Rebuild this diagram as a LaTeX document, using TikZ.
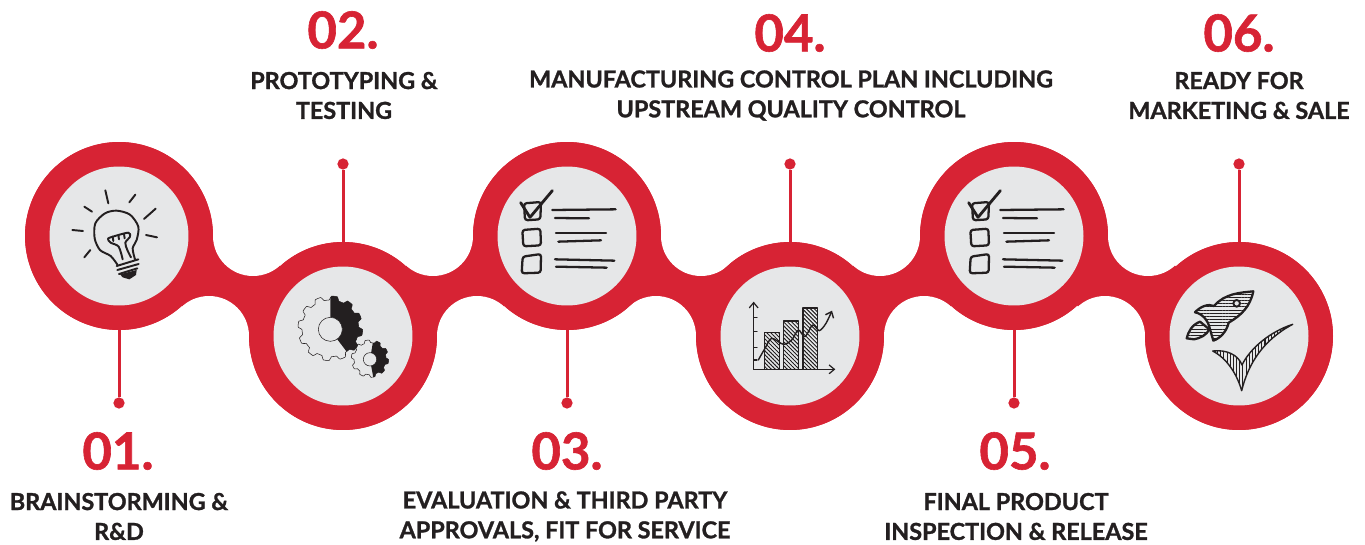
\documentclass[tikz,border=0pt]{standalone}
\usepackage{fontspec}
\setmainfont{Lato}[BoldFont={Lato Bold},BoldFeatures={FakeBold=1.2}]
\usetikzlibrary{positioning,%
  patterns.meta,%
  arrows.meta
}
\definecolor{bandred}{HTML}{D72334}
\definecolor{discgray}{HTML}{E6E7E8}
\definecolor{inkblack}{HTML}{231F20}
\tikzset{
  ring/.style={circle, fill=bandred, minimum size=3.76cm, inner sep=0pt},
  disc/.style={circle, fill=discgray, minimum size=2.78cm, inner sep=0pt},
  notch/.style={circle, fill=white, minimum size=1.6cm, inner sep=0pt},
  pin/.style={circle, fill=bandred, minimum size=.225cm, inner sep=0pt},
  stem/.style={draw=bandred, line width=.06cm},
  number/.style={text=bandred, font=\fontsize{29}{29}\selectfont\bfseries, inner sep=0pt},
  caption/.style={text=inkblack, align=center, inner sep=0pt,
    font=\fontsize{13.3}{17}\selectfont\bfseries},
  ink/.style={draw=inkblack, line width=1.1pt, line cap=round, line join=round},
  inkthin/.style={draw=inkblack, line width=.3pt},
  bar/.style={ink, line width=.6pt, pattern={Lines[angle=-45,distance=1.6pt,line width=.55pt]}, pattern color=inkblack},
  stroke/.style={ink, line width=1.3pt},
  checklist/.pic={
    \draw[stroke, rounded corners=1.5pt] (162,190) -- (213,186) -- (211,238) -- (165,241) -- cycle;
    \draw[stroke, line width=1.6pt] (152,188) -- (180,232) -- (247,152);
    \draw[stroke, rounded corners=1.5pt] (157,270) -- (211,266) -- (213,316) -- (160,319) -- cycle;
    \draw[stroke, rounded corners=1.5pt] (158,350) -- (213,342) -- (212,398) -- (155,400) -- cycle;
    \draw[stroke] (247,210) -- (437,208);
    \draw[stroke] (255,234) -- (357,235);
    \draw[stroke] (258,278) -- (408,278);
    \draw[stroke] (265,305) -- (393,301);
    \draw[stroke] (255,358) -- (433,362);
    \draw[stroke] (258,380) -- (410,383);
  }
}
\begin{document}
\begin{tikzpicture}[x=.02cm, y=-.02cm,
    declare function={gearr(\t,\R,\a,\n)=\R+\a*max(-1,min(1,2.2*sin(\n*\t)));}]
  \useasboundingbox (0,0) rectangle (1365,544);

  % pins and stems
  \foreach \n/\x/\y in {1/119/236, 2/343/336, 3/567/236, 4/790/336, 5/1014/236, 6/1239/336} {
    \node[ring] (r\n) at (\x,\y) {};
  }
  \node[pin] (p1) at (119,403) {};
  \node[pin] (p2) at (343,164) {};
  \node[pin] (p3) at (567,403) {};
  \node[pin] (p4) at (790,164) {};
  \node[pin] (p5) at (1014,403) {};
  \node[pin] (p6) at (1239,164) {};
  \draw[stem] (r1.south) -- (p1);
  \draw[stem] (r2.north) -- (p2);
  \draw[stem] (r3.south) -- (p3);
  \draw[stem] (r4.north) -- (p4);
  \draw[stem] (r5.south) -- (p5);
  \draw[stem] (r6.north) -- (p6);

  % band between the rings
  \foreach \a/\b/\ux/\lx in {1/2/253/209, 2/3/433/477, 3/4/701/656, 4/5/880/924, 5/6/1148/1105} {
    \coordinate (u\a) at (\ux,236);
    \coordinate (l\a) at (\lx,336);
    \fill[bandred] (r\a.center) -- (u\a) -- (r\b.center) -- (l\a) -- cycle;
    \node[notch] at (u\a) {};
    \node[notch] at (l\a) {};
  }
  \foreach \n/\x/\y in {1/119/236, 2/343/336, 3/567/236, 4/790/336, 5/1014/236, 6/1239/336} {
    \node[ring] at (\x,\y) {};
    \node[disc] (d\n) at (\x,\y) {};
  }

  % lamp
  \begin{scope}[shift={(20,140)}, scale=1/3]
    \draw[ink] plot[smooth] coordinates {(293,375) (272,348) (240,330) (224,295) (226,250)
      (255,220) (290,212) (330,224) (355,260) (350,300) (338,325) (345,358)};
    \draw[ink] plot[smooth] coordinates {(308,358) (296,320) (272,308) (264,296) (285,288) (325,278)
      (330,290) (316,308) (322,330) (333,352)};
    \draw[ink] (278,290) -- (280,303) (295,285) -- (297,298) (312,282) -- (314,295);
    \draw[ink] (290,378) -- (355,358) (292,390) -- (356,372) (297,402) -- (352,385);
    \fill[inkblack] (300,403) -- (350,390) -- (348,405) -- (328,418) -- (308,412) -- cycle;
    \draw[ink] (256,151) -- (265,190) (346,164) -- (328,187) (193,200) -- (216,215)
      (407,206) -- (372,237) (157,270) -- (189,273) (378,285) -- (411,292) (211,330) -- (193,352);
  % gears
    \draw[inkthin] plot[domain=0:360, samples=300, variable=\t]
      ({931+gearr(\t,91,6,12)*cos(\t)},{565+gearr(\t,91,6,12)*sin(\t)}) -- cycle;
    \fill[inkblack] plot[domain=-90:55, samples=130, variable=\t]
      ({931+gearr(\t,91,6,12)*cos(\t)},{565+gearr(\t,91,6,12)*sin(\t)})
      -- plot[domain=55:-90, samples=40, variable=\t] ({931+36*cos(\t)},{568+36*sin(\t)}) -- cycle;
    \draw[inkthin] (931,568) circle[radius=36];
    \draw[inkthin] plot[domain=0:360, samples=240, variable=\t]
      ({1050+gearr(\t,52,4,10)*cos(\t)},{656+gearr(\t,52,4,10)*sin(\t)}) -- cycle;
    \fill[inkblack] plot[domain=-80:80, samples=110, variable=\t]
      ({1050+gearr(\t,52,4,10)*cos(\t)},{656+gearr(\t,52,4,10)*sin(\t)})
      -- plot[domain=80:-80, samples=30, variable=\t] ({1050+20*cos(\t)},{658+20*sin(\t)}) -- cycle;
    \draw[inkthin] (1050,658) circle[radius=20];
  \end{scope}

  % checklists
  \pic[scale=1/3] at (470,140) {checklist};
  \pic[scale=1/3] at (918,140) {checklist};

  % chart
  \begin{scope}[shift={(470,140)}, scale=1/3]
    \draw[bar] (884,688) rectangle (929,578);
    \draw[bar] (941,688) rectangle (986,543);
    \draw[bar] (999,688) rectangle (1043,504);
    \draw[ink, line width=.7pt, -{Straight Barb[length=3pt,width=5pt]}] (851,688) -- (851,485);
    \draw[ink, line width=.7pt, -{Straight Barb[length=3pt,width=5pt]}] (851,688) -- (1096,688);
    \draw[ink, line width=.7pt] (851,533) -- (861,533) (851,575) -- (861,575)
      (851,622) -- (861,622) (851,660) -- (861,660);
    \draw[ink, line width=.8pt, -{Straight Barb[length=3pt,width=5pt]}] plot[smooth] coordinates {(865,660) (885,625) (905,595)
      (940,613) (965,600) (985,570) (1005,590) (1028,555) (1048,572) (1068,550) (1086,512)};
  \end{scope}

  % rocket and tick
  \begin{scope}[shift={(1130,250)}, scale=1/3]
    \draw[ink, line width=1.3pt, pattern={Lines[angle=0,distance=1.8pt,line width=.45pt]}, pattern color=inkblack]
      (370,124) .. controls (330,128) and (285,130) .. (252,168)
      .. controls (235,160) and (210,170) .. (195,187)
      .. controls (215,190) and (235,210) .. (240,238)
      -- (250,272)
      .. controls (270,265) and (290,245) .. (296,218)
      .. controls (335,195) and (360,170) .. (370,124) -- cycle;
    \draw[ink, line width=1.3pt, pattern={Lines[angle=0,distance=1.8pt,line width=.45pt]}, pattern color=inkblack]
      (170,265) .. controls (175,245) and (185,225) .. (210,215)
      -- (238,238) .. controls (230,255) and (210,265) .. (192,268) -- cycle;
    \draw[ink, fill=discgray] (320,160) circle[radius=10];
    \draw[ink, line width=.8pt, pattern={Lines[angle=90,distance=1.8pt,line width=.6pt]}, pattern color=inkblack]
      (248,303) .. controls (290,298) and (325,315) .. (336,345)
      .. controls (360,295) and (420,245) .. (488,223)
      .. controls (400,270) and (355,340) .. (335,422)
      .. controls (320,370) and (290,325) .. (248,303) -- cycle;
  \end{scope}

  % labels
  \node[number] (n1) at (118,451) {01.};
  \node[number] (n2) at (343,30) {02.};
  \node[number] (n3) at (567,451) {03.};
  \node[number] (n4) at (790,33) {04.};
  \node[number] (n5) at (1015,451) {05.};
  \node[number] (n6) at (1239,33) {06.};
  \node[caption] (c1) at (119,516.5) {BRAINSTORMING \&\\R\&D};
  \node[caption] (c2) at (344,95.5) {PROTOTYPING \&\\TESTING};
  \node[caption] (c3) at (565,516.5) {EVALUATION \& THIRD PARTY\\APPROVALS, FIT FOR SERVICE};
  \node[caption] (c4) at (791,95.5) {MANUFACTURING CONTROL PLAN INCLUDING\\UPSTREAM QUALITY CONTROL};
  \node[caption] (c5) at (1016,516.5) {FINAL PRODUCT\\INSPECTION \& RELEASE};
  \node[caption] (c6) at (1239,95.5) {READY FOR\\MARKETING \& SALE};
\end{tikzpicture}
\end{document}
